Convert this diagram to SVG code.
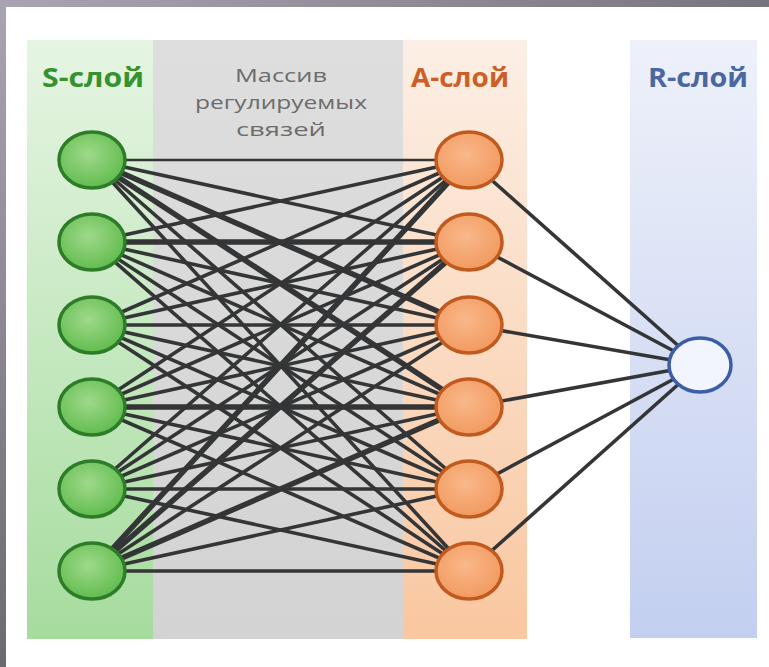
<svg xmlns="http://www.w3.org/2000/svg" width="769" height="667" viewBox="0 0 769 667">
<defs>
<linearGradient id="topFrame" x1="0" y1="0" x2="1" y2="0"><stop offset="0" stop-color="#aaa4b2"/><stop offset="1" stop-color="#78747f"/></linearGradient>
<linearGradient id="leftFrame" x1="0" y1="0" x2="0" y2="1"><stop offset="0" stop-color="#aaa4b2"/><stop offset="1" stop-color="#6c6970"/></linearGradient>
<linearGradient id="gS" x1="0" y1="0" x2="0" y2="1"><stop offset="0" stop-color="#e6f5e3"/><stop offset="1" stop-color="#a6dc9e"/></linearGradient>
<linearGradient id="gM" x1="0" y1="0" x2="0" y2="1"><stop offset="0" stop-color="#dedede"/><stop offset="1" stop-color="#d3d3d3"/></linearGradient>
<linearGradient id="gA" x1="0" y1="0" x2="0" y2="1"><stop offset="0" stop-color="#fcefe5"/><stop offset="1" stop-color="#f9c7a0"/></linearGradient>
<linearGradient id="gR" x1="0" y1="0" x2="0" y2="1"><stop offset="0" stop-color="#eef1fa"/><stop offset="1" stop-color="#c3cff0"/></linearGradient>
<radialGradient id="nS" cx="0.45" cy="0.4" r="0.6"><stop offset="0" stop-color="#9fd98a"/><stop offset="1" stop-color="#62bc4f"/></radialGradient>
<radialGradient id="nA" cx="0.45" cy="0.4" r="0.6"><stop offset="0" stop-color="#f9b88a"/><stop offset="1" stop-color="#f29a60"/></radialGradient>
</defs>
<style>
.lbl{font-family:"Open Sans","DejaVu Sans",sans-serif;font-weight:bold;font-size:27px;text-anchor:middle}
.mid{font-family:"Open Sans","DejaVu Sans",sans-serif;font-size:18px;fill:#6c6c6c;text-anchor:middle}
.s{fill:url(#nS);stroke:#2c7c28;stroke-width:3.5}
.a{fill:url(#nA);stroke:#c05a1e;stroke-width:3.5}
.r{fill:#f2f5fd;stroke:#3d5ea6;stroke-width:3.5}
#conn line{stroke:#343536;stroke-width:3.6;stroke-linecap:round}
#conn line.t{stroke-width:5.5}
#conn line.n{stroke-width:2.6}
</style>
<rect x="0" y="0" width="769" height="667" fill="#ffffff"/>
<rect x="0" y="0" width="769" height="7" fill="url(#topFrame)"/>
<rect x="0" y="0" width="6" height="667" fill="url(#leftFrame)"/>
<g id="bands">
<rect x="27" y="40" width="126" height="599" fill="url(#gS)"/>
<rect x="153" y="40" width="250" height="599" fill="url(#gM)"/>
<rect x="403" y="40" width="124" height="599" fill="url(#gA)"/>
<rect x="630" y="40" width="127" height="598" fill="url(#gR)"/>
</g>
<g id="labels">
<text class="lbl" x="93" y="87" fill="#35922f" textLength="102" lengthAdjust="spacingAndGlyphs">S-слой</text>
<text class="mid" x="281" y="82" textLength="92" lengthAdjust="spacingAndGlyphs">Массив</text>
<text class="mid" x="281" y="109" textLength="172" lengthAdjust="spacingAndGlyphs">регулируемых</text>
<text class="mid" x="281" y="136" textLength="90" lengthAdjust="spacingAndGlyphs">связей</text>
<text class="lbl" x="460" y="87" fill="#cc5f28" textLength="98" lengthAdjust="spacingAndGlyphs">A-слой</text>
<text class="lbl" x="698" y="87" fill="#4a67a0" textLength="100" lengthAdjust="spacingAndGlyphs">R-слой</text>
</g>
<g id="conn">
<line class="n" x1="92" y1="160" x2="469" y2="160"/>
<line x1="92" y1="160" x2="469" y2="242"/>
<line class="t" x1="92" y1="160" x2="469" y2="325"/>
<line class="t" x1="92" y1="160" x2="469" y2="407"/>
<line x1="92" y1="160" x2="469" y2="489"/>
<line x1="92" y1="160" x2="469" y2="571"/>
<line x1="92" y1="242" x2="469" y2="160"/>
<line class="t" x1="92" y1="242" x2="469" y2="242"/>
<line x1="92" y1="242" x2="469" y2="325"/>
<line x1="92" y1="242" x2="469" y2="407"/>
<line x1="92" y1="242" x2="469" y2="489"/>
<line x1="92" y1="242" x2="469" y2="571"/>
<line x1="92" y1="325" x2="469" y2="160"/>
<line x1="92" y1="325" x2="469" y2="242"/>
<line x1="92" y1="325" x2="469" y2="325"/>
<line x1="92" y1="325" x2="469" y2="407"/>
<line x1="92" y1="325" x2="469" y2="489"/>
<line x1="92" y1="325" x2="469" y2="571"/>
<line x1="92" y1="407" x2="469" y2="160"/>
<line x1="92" y1="407" x2="469" y2="242"/>
<line x1="92" y1="407" x2="469" y2="325"/>
<line class="t" x1="92" y1="407" x2="469" y2="407"/>
<line x1="92" y1="407" x2="469" y2="489"/>
<line x1="92" y1="407" x2="469" y2="571"/>
<line x1="92" y1="489" x2="469" y2="160"/>
<line x1="92" y1="489" x2="469" y2="242"/>
<line x1="92" y1="489" x2="469" y2="325"/>
<line x1="92" y1="489" x2="469" y2="407"/>
<line x1="92" y1="489" x2="469" y2="489"/>
<line x1="92" y1="489" x2="469" y2="571"/>
<line class="t" x1="92" y1="571" x2="469" y2="160"/>
<line class="t" x1="92" y1="571" x2="469" y2="242"/>
<line x1="92" y1="571" x2="469" y2="325"/>
<line class="t" x1="92" y1="571" x2="469" y2="407"/>
<line x1="92" y1="571" x2="469" y2="489"/>
<line x1="92" y1="571" x2="469" y2="571"/>
<line x1="469" y1="160" x2="700" y2="365"/>
<line x1="469" y1="242" x2="700" y2="365"/>
<line x1="469" y1="325" x2="700" y2="365"/>
<line x1="469" y1="407" x2="700" y2="365"/>
<line x1="469" y1="489" x2="700" y2="365"/>
<line x1="469" y1="571" x2="700" y2="365"/>
</g>
<g id="s1"><ellipse class="s" cx="92" cy="160" rx="33" ry="28"/></g>
<g id="s2"><ellipse class="s" cx="92" cy="242" rx="33" ry="28"/></g>
<g id="s3"><ellipse class="s" cx="92" cy="325" rx="33" ry="28"/></g>
<g id="s4"><ellipse class="s" cx="92" cy="407" rx="33" ry="28"/></g>
<g id="s5"><ellipse class="s" cx="92" cy="489" rx="33" ry="28"/></g>
<g id="s6"><ellipse class="s" cx="92" cy="571" rx="33" ry="28"/></g>
<g id="a1"><ellipse class="a" cx="469" cy="160" rx="33" ry="28"/></g>
<g id="a2"><ellipse class="a" cx="469" cy="242" rx="33" ry="28"/></g>
<g id="a3"><ellipse class="a" cx="469" cy="325" rx="33" ry="28"/></g>
<g id="a4"><ellipse class="a" cx="469" cy="407" rx="33" ry="28"/></g>
<g id="a5"><ellipse class="a" cx="469" cy="489" rx="33" ry="28"/></g>
<g id="a6"><ellipse class="a" cx="469" cy="571" rx="33" ry="28"/></g>
<g id="r1"><ellipse class="r" cx="700" cy="365" rx="31" ry="27"/></g>
</svg>
